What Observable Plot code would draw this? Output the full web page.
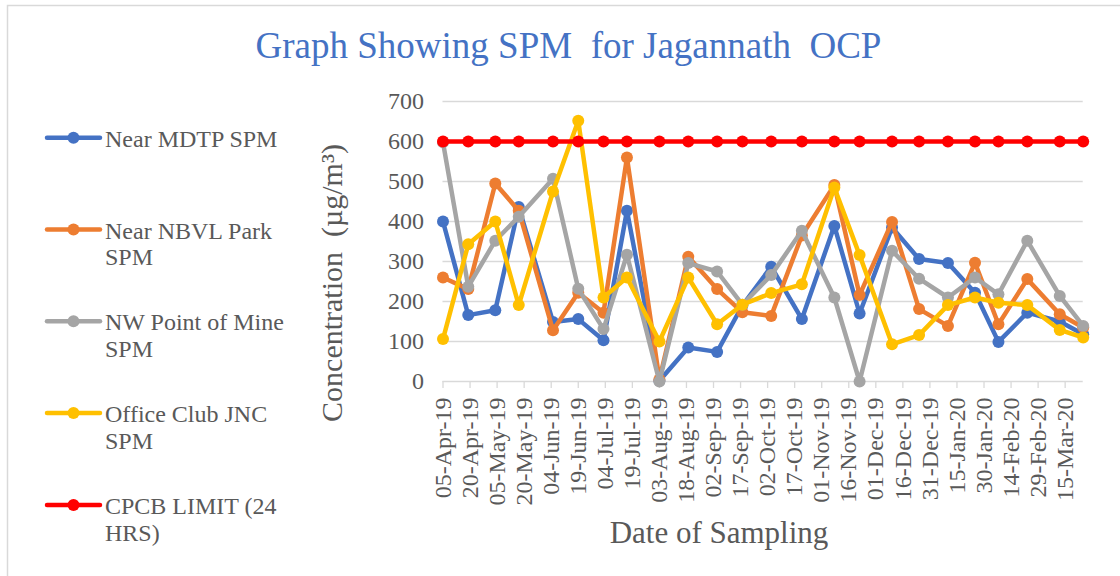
<!DOCTYPE html>
<html>
<head>
<meta charset="utf-8">
<script src="https://cdn.jsdelivr.net/npm/d3@7"></script>
<script src="https://cdn.jsdelivr.net/npm/@observablehq/plot@0.6"></script>
<style>
  html, body { margin: 0; padding: 0; background: #fff; }
  #chart { position: relative; width: 1120px; height: 576px; overflow: hidden; background: #fff; }
  #chart svg text { font-family: "Liberation Serif", "Times New Roman", serif; }
</style>
</head>
<body>
<div id="chart"></div>
<script>
// ---- Data ----
const chartTitle = "Graph Showing SPM  for Jagannath  OCP";
const yTitle = "Concentration  (µg/m³)";
const xTitle = "Date of Sampling";

const sampleDates = ["2019-04-05","2019-04-19","2019-05-04","2019-05-17","2019-06-05","2019-06-19",
  "2019-07-03","2019-07-16","2019-08-03","2019-08-19","2019-09-04","2019-09-18",
  "2019-10-04","2019-10-21","2019-11-08","2019-11-22","2019-12-10","2019-12-25",
  "2020-01-10","2020-01-25","2020-02-07","2020-02-23","2020-03-12","2020-03-25"];

const xTickLabels = ["05-Apr-19","20-Apr-19","05-May-19","20-May-19","04-Jun-19","19-Jun-19",
  "04-Jul-19","19-Jul-19","03-Aug-19","18-Aug-19","02-Sep-19","17-Sep-19","02-Oct-19",
  "17-Oct-19","01-Nov-19","16-Nov-19","01-Dec-19","16-Dec-19","31-Dec-19","15-Jan-20",
  "30-Jan-20","14-Feb-20","29-Feb-20","15-Mar-20"];

const yTicks = [0, 100, 200, 300, 400, 500, 600, 700];

const seriesNames = ["Near MDTP SPM", "Near NBVL Park SPM", "NW Point of Mine SPM", "Office Club JNC SPM", "CPCB LIMIT (24 HRS)"];
const legendLines = [["Near MDTP SPM"], ["Near NBVL Park", "SPM"], ["NW Point of Mine", "SPM"], ["Office Club JNC", "SPM"], ["CPCB LIMIT (24", "HRS)"]];
const seriesColors = ["#4472C4", "#ED7D31", "#A5A5A5", "#FFC000", "#FF0000"];

const nearMDTP   = [400, 166, 178, 436, 149, 156, 103, 427,   2,  85,  74, 190, 287, 156, 389, 170, 385, 306, 296, 222,  99, 172, 150, 118];
const nearNBVL   = [260, 231, 495, 427, 128, 222, 172, 560,   5, 312, 231, 173, 164, 365, 491, 216, 399, 181, 139, 297, 143, 256, 168, 135];
const nwPoint    = [598, 237, 352, 412, 507, 232, 131, 317,   0, 296, 275, 192, 266, 377, 210,   0, 327, 257, 210, 260, 218, 352, 214, 139];
const officeClub = [106, 343, 400, 191, 475, 652, 210, 260, 100, 260, 143, 192, 221, 243, 485, 316,  93, 116, 191, 210, 197, 191, 129, 110];
const cpcbLimit  = [600, 600, 600, 600, 600, 600, 600, 600, 600, 600, 600, 600, 600, 600, 600, 600, 600, 600, 600, 600, 600, 600, 600, 600];

// ---- Build ----
const seriesValues = [nearMDTP, nearNBVL, nwPoint, officeClub, cpcbLimit];
const parseISO = d3.utcParse("%Y-%m-%d");
const parseTick = d3.utcParse("%d-%b-%y");
const fmtTick = d3.utcFormat("%d-%b-%y");
const tickDates = xTickLabels.map(parseTick);
const dates = sampleDates.map(parseISO);

const tables = seriesValues.map((vals, s) => dates.map((d, i) => ({date: d, value: vals[i], series: seriesNames[s]})));

const textColor = "#595959";
const gridColor = "#d9d9d9";
const serif = "'Liberation Serif', 'Times New Roman', serif";

const marks = [
  Plot.gridY(yTicks, {stroke: gridColor, strokeOpacity: 1, strokeWidth: 1.3}),
  Plot.axisX(tickDates, {tickRotate: -90, tickFormat: fmtTick, fontSize: 24, tickSize: 7, tickPadding: 9,
    stroke: gridColor, strokeWidth: 1.3, fill: textColor, label: null}),
  Plot.axisY(yTicks, {fontSize: 24, tickSize: 0, tickPadding: 19, fill: textColor, label: null}),
];
tables.forEach((t, s) => {
  marks.push(Plot.line(t, {x: "date", y: "value", stroke: seriesColors[s], strokeWidth: 4.5, strokeLinejoin: "round", strokeLinecap: "round"}));
  marks.push(Plot.dot(t, {x: "date", y: "value", fill: seriesColors[s], r: 6}));
});

const plot = Plot.plot({
  width: 1120,
  height: 576,
  marginLeft: 442.5,
  marginRight: 37.3,
  marginTop: 101,
  marginBottom: 195,
  style: {fontFamily: serif, background: "white", overflow: "visible"},
  x: {type: "utc", domain: [dates[0], dates[dates.length - 1]]},
  y: {domain: [0, 700]},
  marks
});

document.getElementById("chart").appendChild(plot);

// ---- Overlay texts, border, legend ----
const svg = d3.select(plot);
const g = svg.append("g").attr("font-family", serif).attr("text-anchor", "start");

g.append("rect").attr("x", 7.5).attr("y", 5.5).attr("width", 1300).attr("height", 800)
  .attr("fill", "none").attr("stroke", gridColor).attr("stroke-width", 1.5);

g.append("text").attr("x", 568.5).attr("y", 58).attr("text-anchor", "middle")
  .attr("font-size", 37).attr("fill", "#4472C4").style("white-space", "pre").text(chartTitle);

g.append("text").attr("transform", "translate(342,283) rotate(-90)").attr("text-anchor", "middle")
  .attr("font-size", 30).attr("fill", textColor).style("white-space", "pre").text(yTitle);

g.append("text").attr("x", 719).attr("y", 543).attr("text-anchor", "middle")
  .attr("font-size", 31).attr("fill", textColor).text(xTitle);

legendLines.forEach((lines, i) => {
  const sy = 137.7 + i * 91.8;
  const lg = g.append("g");
  lg.append("line").attr("x1", 47).attr("x2", 100).attr("y1", sy).attr("y2", sy)
    .attr("stroke", seriesColors[i]).attr("stroke-width", 4.5).attr("stroke-linecap", "round");
  lg.append("circle").attr("cx", 73.5).attr("cy", sy).attr("r", 6).attr("fill", seriesColors[i]);
  lines.forEach((ln, j) => {
    lg.append("text").attr("x", 105).attr("y", sy + 9 + j * 26.7).attr("text-anchor", "start")
      .attr("font-size", 24).attr("fill", textColor).text(ln);
  });
});
</script>
</body>
</html>
